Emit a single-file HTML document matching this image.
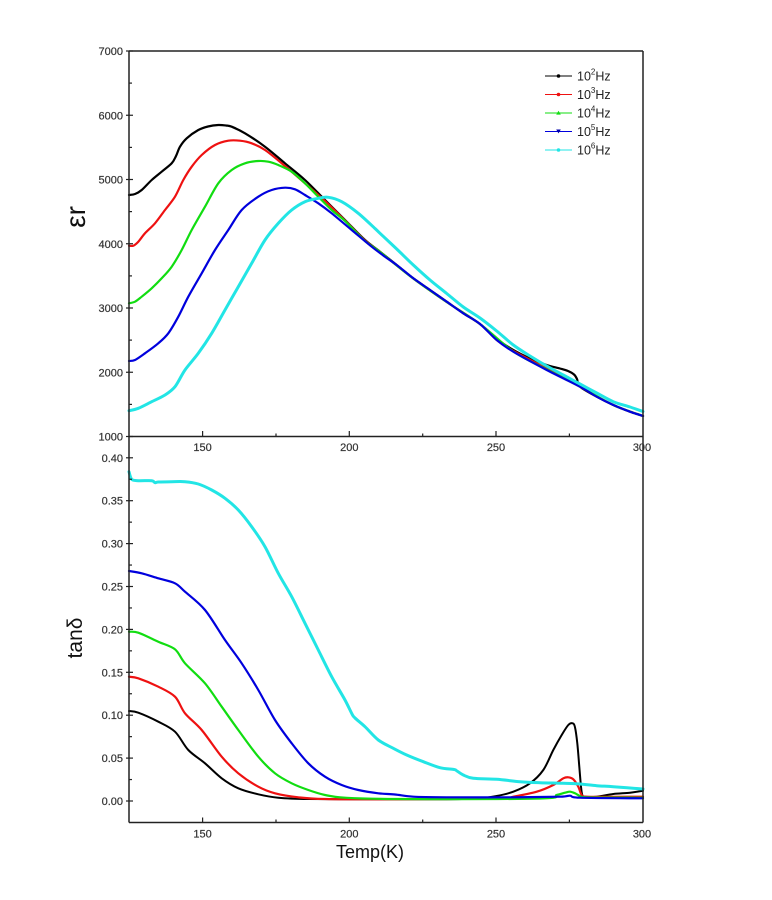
<!DOCTYPE html>
<html><head><meta charset="utf-8">
<style>
html,body{margin:0;padding:0;background:#fff;}
svg{display:block;}
text{font-family:"Liberation Sans",Arial,sans-serif;}
</style></head>
<body>
<svg width="772" height="900" viewBox="0 0 772 900" xmlns="http://www.w3.org/2000/svg">
<rect x="0" y="0" width="772" height="900" fill="#fff"/>
<g fill="none" stroke-linejoin="round" stroke-linecap="round">
<polyline class="s" stroke="#000" stroke-width="2.2" points="129,195 135,194 141.7,190 151.7,180 161.7,171.7 171.7,163.3 176,156 180,146.7 186.7,138.3 198.3,130 208,126.5 218.3,125 226,125.5 231.7,126.7 245,133.3 265,146.7 285,163.3 305,180 325,200 345,220 365,240 380,251.7 396.7,265 413.3,278.3 430,290 446.7,301.7 463.3,313.3 480,324 496.7,339 513.3,350 530,358.5 546.7,365 560,368.5 568,371 574,374.5 577,379 580,386.7 596.7,396.7 613.3,405 630,411.7 643,416"/>
<polyline class="s" stroke="#ee1111" stroke-width="2.2" points="129,245.7 133.3,245.7 138.3,241.7 145,233.3 155,223.3 165,210 175,196.7 183.3,180 191.7,166.7 201.7,155 215,145 228.3,140.7 240,140.7 251.7,143.3 265,150 281.7,163.3 305,183.3 325,201 345,220.5 365,240.5 380,252 413.3,278.5 446.7,302 480,324 496.7,340 513.3,351 546.7,368.5 570,380.5 580,386.7 613.3,405 643,416"/>
<polyline class="s" stroke="#11dd11" stroke-width="2.2" points="129,303.3 135,301.7 141.7,296.7 151.7,288.3 161.7,278.3 171.7,266.7 181.7,250 191.7,230 205,206.7 218.3,183.3 231.7,170 245,163.3 258.3,161 268.3,161.7 278.3,165 291.7,171.7 305,183.3 318.3,196.7 331.7,210 345,221 365,241 380,252 413.3,278.5 446.7,302 480,324 513.3,351.5 546.7,369.5 580,386.7 613.3,405 643,416"/>
<polyline class="s" stroke="#0000dd" stroke-width="2.2" points="129,361 135,360 145,353.3 158.3,343.3 168.3,333.3 178.3,316.7 188.3,296.7 201.7,273.3 215,250 228.3,230 241.7,210 258.3,196.7 271.7,190 285,187.7 295,189.3 305,195 318.3,203.3 331.7,213.3 351.7,230 371.7,246.7 385,256.7 396.7,265 413.3,278.3 430,290 446.7,301.7 463.3,313.3 480,324 496.7,340 513.3,351.7 546.7,370 580,386.7 596.7,396.7 613.3,405 630,411.7 643,416"/>
<polyline class="s" stroke="#22e5e5" stroke-width="3" points="129,410.7 138.3,408.3 151.7,401.7 165,395 175,386.7 185,370 198.3,353.3 211.7,333.3 225,310 238.3,286.7 251.7,263.3 265,240 278.3,223.3 291.7,210 305,201.7 318.3,198.3 328.3,197.3 341.7,201.7 358.3,213.3 375,228.5 380,233.3 396.7,249 413.3,265 430,280 446.7,293.5 463.3,307 480,318 496.7,331 513.3,345 530,356 546.7,366 563.3,375 580,384 596.7,393 613.3,401.7 630,407 643,411.5"/>
</g>
<g fill="none" stroke-linejoin="round" stroke-linecap="round">
<polyline class="s" stroke="#000" stroke-width="2" points="129,711 138.3,712.7 158.3,721.7 175,731.7 188.3,750 205,763.3 221.7,778.3 238.3,788.3 258.3,794.3 278.3,797.7 308.3,799 395,799.3 446.7,799.3 480,798.3 496.7,796 513.3,791.7 530,783.3 543.3,770 553.3,750 561.7,735 568.3,725 572.7,723.3 575,727.3 577.3,743.3 579.3,766.7 581,786.7 582.3,795 585,796.7 596.7,796.7 613.3,794 630,792.7 643,790.7"/>
<polyline class="s" stroke="#ee1111" stroke-width="2.2" points="129,676.7 138.3,678.3 158.3,686.7 175,696.7 185,713.3 201.7,730 221.7,756.7 238.3,773.3 258.3,786.7 275,793.3 298.3,797.3 325,799 395,799.3 500,798.5 513.3,796.7 536.7,791.7 553.3,785 563.3,778.3 568.3,777.3 573.3,779.3 578.3,786.7 581.7,795 586.7,796.7 643,796.7"/>
<polyline class="s" stroke="#11dd11" stroke-width="2.2" points="129,631.7 138.3,632.7 158.3,641.7 175,649.3 185,663.3 205,683.3 221.7,706.7 238.3,730 258.3,756.7 275,773.3 291.7,783.3 308.3,790 325,795 345,797.7 395,799 540,798.5 556.7,795 565,792.7 570,791.7 575,793.3 580,796 586.7,797.3 643,797.7"/>
<polyline class="s" stroke="#0000dd" stroke-width="2.2" points="129,571 141.7,573.3 158.3,578.3 175,583.3 185,591.7 205,610 225,640 241.7,663.3 258.3,690 275,720 291.7,743.3 308.3,763.3 325,776.7 341.7,785 358.3,790 378.3,793.3 395,794.5 413.3,796.7 446.7,797.3 513.3,797.3 560,796.7 570,795.7 580,797.7 643,798.3"/>
<polyline class="s" stroke="#22e5e5" stroke-width="3" points="129,471.7 131.7,479.3 138.3,480.7 151.7,480.7 155,482.7 158.3,482 171.7,481.7 185,481.7 198.3,484 211.7,490 225,498.3 238.3,510 251.7,526.7 265,546.7 278.3,573.3 291.7,596.7 305,623.3 318.3,650 331.7,676.7 345,700 352,714 355,718 365,726.7 378.3,740 393.3,748.3 406.7,755 423.3,761.7 440,767.7 454,769.5 457,771 463.3,775 473.3,778.3 496.7,779.3 520,781.7 540,782.7 563.3,783.3 580,784 596.7,785.7 613.3,786.7 643,789"/>
</g>
<g stroke="#222" stroke-width="1.5" fill="none">
  <line x1="129" y1="51" x2="643" y2="51"/>
  <line x1="129" y1="51" x2="129" y2="822.5"/>
  <line x1="643" y1="51" x2="643" y2="822.5"/>
  <line x1="129" y1="436.5" x2="643" y2="436.5"/>
  <line x1="129" y1="822.5" x2="643" y2="822.5"/>
</g>
<g stroke="#222" stroke-width="1.2">
  <line x1="126" y1="51" x2="133" y2="51"/>
  <line x1="126" y1="115.25" x2="133" y2="115.25"/>
  <line x1="126" y1="179.5" x2="133" y2="179.5"/>
  <line x1="126" y1="243.75" x2="133" y2="243.75"/>
  <line x1="126" y1="308" x2="133" y2="308"/>
  <line x1="126" y1="372.25" x2="133" y2="372.25"/>
  <line x1="126" y1="436.5" x2="133" y2="436.5"/>
  <line x1="129" y1="83.1" x2="132" y2="83.1"/>
  <line x1="129" y1="147.4" x2="132" y2="147.4"/>
  <line x1="129" y1="211.6" x2="132" y2="211.6"/>
  <line x1="129" y1="275.9" x2="132" y2="275.9"/>
  <line x1="129" y1="340.1" x2="132" y2="340.1"/>
  <line x1="129" y1="404.4" x2="132" y2="404.4"/>
  <line x1="202.6" y1="436.5" x2="202.6" y2="431"/>
  <line x1="349.3" y1="436.5" x2="349.3" y2="431"/>
  <line x1="496" y1="436.5" x2="496" y2="431"/>
  <line x1="276" y1="436.5" x2="276" y2="433.5"/>
  <line x1="422.7" y1="436.5" x2="422.7" y2="433.5"/>
  <line x1="569.4" y1="436.5" x2="569.4" y2="433.5"/>
  <line x1="126" y1="457.8" x2="133" y2="457.8"/>
  <line x1="126" y1="500.7" x2="133" y2="500.7"/>
  <line x1="126" y1="543.6" x2="133" y2="543.6"/>
  <line x1="126" y1="586.5" x2="133" y2="586.5"/>
  <line x1="126" y1="629.4" x2="133" y2="629.4"/>
  <line x1="126" y1="672.3" x2="133" y2="672.3"/>
  <line x1="126" y1="715.2" x2="133" y2="715.2"/>
  <line x1="126" y1="758.1" x2="133" y2="758.1"/>
  <line x1="126" y1="801" x2="133" y2="801"/>
  <line x1="129" y1="479.25" x2="132" y2="479.25"/>
  <line x1="129" y1="522.15" x2="132" y2="522.15"/>
  <line x1="129" y1="565.05" x2="132" y2="565.05"/>
  <line x1="129" y1="607.95" x2="132" y2="607.95"/>
  <line x1="129" y1="650.85" x2="132" y2="650.85"/>
  <line x1="129" y1="693.75" x2="132" y2="693.75"/>
  <line x1="129" y1="736.65" x2="132" y2="736.65"/>
  <line x1="129" y1="779.55" x2="132" y2="779.55"/>
  <line x1="202.6" y1="822.5" x2="202.6" y2="817.5"/>
  <line x1="349.3" y1="822.5" x2="349.3" y2="817.5"/>
  <line x1="496" y1="822.5" x2="496" y2="817.5"/>
  <line x1="276" y1="822.5" x2="276" y2="819.5"/>
  <line x1="422.7" y1="822.5" x2="422.7" y2="819.5"/>
  <line x1="569.4" y1="822.5" x2="569.4" y2="819.5"/>
</g>
<g font-size="11" fill="#333" text-anchor="end" stroke="#333" stroke-width="0.2">
  <text x="123" y="55">7000</text>
  <text x="123" y="119.3">6000</text>
  <text x="123" y="183.5">5000</text>
  <text x="123" y="247.8">4000</text>
  <text x="123" y="312">3000</text>
  <text x="123" y="376.3">2000</text>
  <text x="123" y="440.5">1000</text>
  <text x="123" y="461.8">0.40</text>
  <text x="123" y="504.7">0.35</text>
  <text x="123" y="547.6">0.30</text>
  <text x="123" y="590.5">0.25</text>
  <text x="123" y="633.4">0.20</text>
  <text x="123" y="676.3">0.15</text>
  <text x="123" y="719.2">0.10</text>
  <text x="123" y="762.1">0.05</text>
  <text x="123" y="805">0.00</text>
</g>
<g font-size="11" fill="#333" text-anchor="middle" stroke="#333" stroke-width="0.2">
  <text x="202.6" y="451">150</text>
  <text x="349.3" y="451">200</text>
  <text x="496" y="451">250</text>
  <text x="642" y="451">300</text>
  <text x="202.6" y="837.5">150</text>
  <text x="349.3" y="837.5">200</text>
  <text x="496" y="837.5">250</text>
  <text x="642" y="837.5">300</text>
</g>
<text x="0" y="0" font-size="28" fill="#111" text-anchor="middle" transform="translate(85,217) rotate(-90)">εr</text>
<text x="0" y="0" font-size="21" fill="#111" text-anchor="middle" transform="translate(82,638) rotate(-90)">tanδ</text>
<text x="370" y="858" font-size="18" fill="#111" text-anchor="middle">Temp(K)</text>
<g stroke-width="1">
  <line x1="545" y1="76" x2="572" y2="76" stroke="#000"/>
  <circle cx="558.5" cy="76" r="1.8" fill="#000"/>
  <line x1="545" y1="94.5" x2="572" y2="94.5" stroke="#ee1111"/>
  <circle cx="558.5" cy="94.5" r="1.8" fill="#ee1111"/>
  <line x1="545" y1="113" x2="572" y2="113" stroke="#11dd11"/>
  <polygon points="558.5,110.8 560.8,114.6 556.2,114.6" fill="#11dd11"/>
  <line x1="545" y1="131.5" x2="572" y2="131.5" stroke="#0000dd"/>
  <polygon points="556.2,129.5 560.8,129.5 558.5,133.4" fill="#0000aa"/>
  <line x1="545" y1="150" x2="572" y2="150" stroke="#22e5e5"/>
  <circle cx="558.5" cy="150" r="1.8" fill="#22e5e5"/>
</g>
<g font-size="12.5" fill="#222">
  <text x="577" y="80.5">10<tspan font-size="8" dy="-6">2</tspan><tspan dy="6">Hz</tspan></text>
  <text x="577" y="99">10<tspan font-size="8" dy="-6">3</tspan><tspan dy="6">Hz</tspan></text>
  <text x="577" y="117.5">10<tspan font-size="8" dy="-6">4</tspan><tspan dy="6">Hz</tspan></text>
  <text x="577" y="136">10<tspan font-size="8" dy="-6">5</tspan><tspan dy="6">Hz</tspan></text>
  <text x="577" y="154.5">10<tspan font-size="8" dy="-6">6</tspan><tspan dy="6">Hz</tspan></text>
</g>
</svg>
<script>
(function(){
  var NS="http://www.w3.org/2000/svg";
  var pls=document.querySelectorAll("polyline.s");
  for(var k=0;k<pls.length;k++){
    var pl=pls[k];
    var pts=pl.getAttribute("points").trim().split(/\s+/).map(function(p){return p.split(",").map(Number);});
    if(pts.length<3) continue;
    var d="M"+pts[0][0]+","+pts[0][1];
    for(var i=0;i<pts.length-1;i++){
      var p0=pts[i>0?i-1:i],p1=pts[i],p2=pts[i+1],p3=pts[i+2<pts.length?i+2:i+1];
      var t=0.16;
      var c1x=p1[0]+(p2[0]-p0[0])*t,c1y=p1[1]+(p2[1]-p0[1])*t;
      var c2x=p2[0]-(p3[0]-p1[0])*t,c2y=p2[1]-(p3[1]-p1[1])*t;
      d+=" C"+c1x.toFixed(2)+","+c1y.toFixed(2)+" "+c2x.toFixed(2)+","+c2y.toFixed(2)+" "+p2[0]+","+p2[1];
    }
    var path=document.createElementNS(NS,"path");
    path.setAttribute("d",d);
    path.setAttribute("stroke",pl.getAttribute("stroke"));
    path.setAttribute("stroke-width",pl.getAttribute("stroke-width"));
    path.setAttribute("fill","none");
    path.setAttribute("stroke-linejoin","round");
    path.setAttribute("stroke-linecap","round");
    pl.parentNode.replaceChild(path,pl);
  }
})();
</script>
</body></html>
